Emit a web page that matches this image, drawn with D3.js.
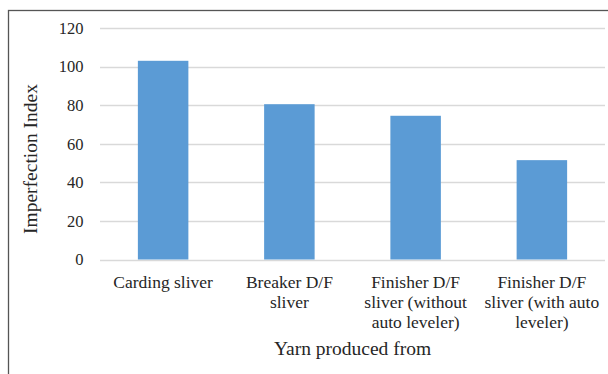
<!DOCTYPE html>
<html>
<head>
<meta charset="utf-8">
<script src="https://cdn.jsdelivr.net/npm/d3@7"></script>
<style>
body{margin:0;background:#fff;}
text{font-family:"Liberation Serif","DejaVu Serif",serif;fill:#262626;}
</style>
</head>
<body>
<svg id="chart" width="608" height="374"></svg>
<script>
// categories (each one split in the lines shown under the bars)
var categories = [
  ["Carding sliver"],
  ["Breaker D/F", "sliver"],
  ["Finisher D/F", "sliver (without", "auto leveler)"],
  ["Finisher D/F", "sliver (with auto", "leveler)"]
];
var values = [103, 80.5, 74.5, 51.5];
var yTicks = [0, 20, 40, 60, 80, 100, 120];
var xTitle = "Yarn produced from";
var yTitle = "Imperfection Index";

var svg = d3.select("#chart");
var plotLeft = 100, plotRight = 605, plotTop = 28, plotBottom = 259.5;

// outer frame (only the top and left edges are in view)
svg.append("rect")
  .attr("x", 8.5).attr("y", 10.5)
  .attr("width", 700).attr("height", 500)
  .attr("fill", "none")
  .attr("stroke", "#555")
  .attr("stroke-width", 1.3);

var xScale = d3.scaleBand()
  .domain(d3.range(categories.length))
  .range([plotLeft, plotRight])
  .paddingInner(0.6)
  .paddingOuter(0.3);

var yScale = d3.scaleLinear()
  .domain([0, 120])
  .range([plotBottom, plotTop]);

// gridlines
svg.append("g").selectAll("line")
  .data(yTicks)
  .enter().append("line")
  .attr("x1", plotLeft).attr("x2", plotRight)
  .attr("y1", function(d){return Math.round(yScale(d)) + 0.5})
  .attr("y2", function(d){return Math.round(yScale(d)) + 0.5})
  .attr("stroke", "#d9d9d9")
  .style("stroke-width", "1.5px");

// y tick labels
svg.append("g").selectAll("text")
  .data(yTicks)
  .enter().append("text")
  .attr("x", 83.5)
  .attr("y", function(d){return yScale(d)})
  .attr("dy", "0.35em")
  .attr("text-anchor", "end")
  .style("font-size", "16.5px")
  .text(function(d){return d});

// bars
svg.append("g").selectAll("rect")
  .data(values)
  .enter().append("rect")
  .attr("x", function(d, i){return xScale(i)})
  .attr("y", function(d){return yScale(d)})
  .attr("width", xScale.bandwidth())
  .attr("height", function(d){return yScale(0) - yScale(d)})
  .attr("fill", "#5b9bd5");

// category labels
var labels = svg.append("g").selectAll("text")
  .data(categories)
  .enter().append("text")
  .attr("text-anchor", "middle")
  .style("font-size", "17.5px");
labels.selectAll("tspan")
  .data(function(d, i){return d.map(function(t){return {t: t, i: i}})})
  .enter().append("tspan")
  .attr("x", function(d){return xScale(d.i) + xScale.bandwidth() / 2})
  .attr("y", function(d, j){return 282 + j * 20})
  .attr("dy", "0.35em")
  .text(function(d){return d.t});

// axis titles
svg.append("text")
  .attr("x", (plotLeft + plotRight) / 2)
  .attr("y", 348)
  .attr("dy", "0.35em")
  .attr("text-anchor", "middle")
  .style("font-size", "19.5px")
  .text(xTitle);

svg.append("text")
  .attr("transform", "translate(30,159) rotate(-90)")
  .attr("dy", "0.35em")
  .attr("text-anchor", "middle")
  .style("font-size", "19.5px")
  .text(yTitle);
</script>
</body>
</html>
